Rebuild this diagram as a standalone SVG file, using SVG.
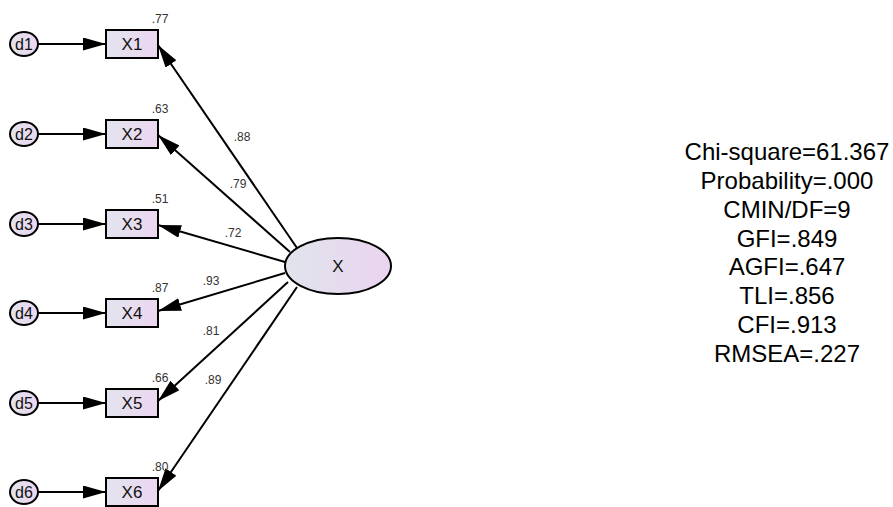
<svg xmlns="http://www.w3.org/2000/svg" width="893" height="507" viewBox="0 0 893 507">
  <defs>
    <linearGradient id="fillObs" x1="0" y1="0" x2="1" y2="0">
      <stop offset="0" stop-color="#e2e4ee"/>
      <stop offset="1" stop-color="#ecd6f0"/>
    </linearGradient>
    <linearGradient id="fillLat" x1="0" y1="0" x2="1" y2="0">
      <stop offset="0" stop-color="#e0e4ec"/>
      <stop offset="1" stop-color="#ebd4f0"/>
    </linearGradient>
    <marker id="arrow" markerUnits="userSpaceOnUse" markerWidth="23" markerHeight="13" refX="23" refY="6.5" orient="auto">
      <path d="M0,0 L23,6.5 L0,13 Z" fill="#000"/>
    </marker>
  </defs>
  <style>
    .obs { fill: url(#fillObs); stroke: #000; stroke-width: 2; }
    .err { fill: url(#fillObs); stroke: #000; stroke-width: 2; }
    .lat { fill: url(#fillLat); stroke: #000; stroke-width: 2; }
    .name { font-family: "Liberation Sans", Arial, sans-serif; font-size: 17px; fill: #111; text-anchor: middle; }
    .dname { font-family: "Liberation Sans", Arial, sans-serif; font-size: 16px; fill: #111; text-anchor: middle; }
    .coef { font-family: "Liberation Sans", Arial, sans-serif; font-size: 12px; fill: #333; text-anchor: middle; }
    .fit { font-family: "Liberation Sans", Arial, sans-serif; font-size: 24px; fill: #000; text-anchor: middle; }
    .conn line { stroke: #000; stroke-width: 2; marker-end: url(#arrow); }
  </style>

  <rect width="893" height="507" fill="#fff"/>

  <!-- paths: errors to indicators, factor to indicators -->
  <g id="connectors" class="conn">
    <line x1="38" y1="44" x2="106" y2="44"/>
    <line x1="38" y1="134" x2="106" y2="134"/>
    <line x1="38" y1="224" x2="106" y2="224"/>
    <line x1="38" y1="313" x2="106" y2="313"/>
    <line x1="38" y1="403" x2="106" y2="403"/>
    <line x1="38" y1="492" x2="106" y2="492"/>
    <line x1="297" y1="248" x2="158" y2="45"/>
    <line x1="290" y1="252" x2="158" y2="135"/>
    <line x1="285" y1="262" x2="158" y2="225"/>
    <line x1="285" y1="273" x2="158" y2="311"/>
    <line x1="288" y1="282" x2="158" y2="401"/>
    <line x1="297" y1="287" x2="158" y2="491"/>
  </g>

  <!-- loading estimates -->
  <g id="loadings">
    <text class="coef" x="242" y="141">.88</text>
    <text class="coef" x="238" y="188">.79</text>
    <text class="coef" x="233" y="237">.72</text>
    <text class="coef" x="211" y="285">.93</text>
    <text class="coef" x="211" y="335">.81</text>
    <text class="coef" x="213" y="384">.89</text>
  </g>

  <!-- error terms -->
  <g id="d1"><ellipse class="err" cx="24" cy="44" rx="14" ry="12"/><text class="dname" x="24" y="50">d1</text></g>
  <g id="d2"><ellipse class="err" cx="24" cy="134" rx="14" ry="12"/><text class="dname" x="24" y="140">d2</text></g>
  <g id="d3"><ellipse class="err" cx="24" cy="224" rx="14" ry="12"/><text class="dname" x="24" y="230">d3</text></g>
  <g id="d4"><ellipse class="err" cx="24" cy="313" rx="14" ry="12"/><text class="dname" x="24" y="319">d4</text></g>
  <g id="d5"><ellipse class="err" cx="24" cy="403" rx="14" ry="12"/><text class="dname" x="24" y="409">d5</text></g>
  <g id="d6"><ellipse class="err" cx="24" cy="492" rx="14" ry="12"/><text class="dname" x="24" y="498">d6</text></g>

  <!-- observed indicators with squared multiple correlations -->
  <g id="X1"><rect class="obs" x="106" y="30" width="52" height="28"/><text class="name" x="132" y="50">X1</text><text class="coef" x="160" y="23">.77</text></g>
  <g id="X2"><rect class="obs" x="106" y="120" width="52" height="28"/><text class="name" x="132" y="140">X2</text><text class="coef" x="160" y="113">.63</text></g>
  <g id="X3"><rect class="obs" x="106" y="210" width="52" height="28"/><text class="name" x="132" y="230">X3</text><text class="coef" x="160" y="203">.51</text></g>
  <g id="X4"><rect class="obs" x="106" y="299" width="52" height="28"/><text class="name" x="132" y="319">X4</text><text class="coef" x="160" y="292">.87</text></g>
  <g id="X5"><rect class="obs" x="106" y="389" width="52" height="28"/><text class="name" x="132" y="409">X5</text><text class="coef" x="160" y="382">.66</text></g>
  <g id="X6"><rect class="obs" x="106" y="478" width="52" height="28"/><text class="name" x="132" y="498">X6</text><text class="coef" x="160" y="471">.80</text></g>

  <!-- latent factor -->
  <g id="X"><ellipse class="lat" cx="338" cy="266" rx="53" ry="28"/><text class="name" x="338" y="272">X</text></g>

  <!-- model fit summary -->
  <g id="fit">
    <text class="fit" x="787" y="160">Chi-square=61.367</text>
    <text class="fit" x="787" y="189">Probability=.000</text>
    <text class="fit" x="787" y="218">CMIN/DF=9</text>
    <text class="fit" x="787" y="247">GFI=.849</text>
    <text class="fit" x="787" y="275">AGFI=.647</text>
    <text class="fit" x="787" y="304">TLI=.856</text>
    <text class="fit" x="787" y="333">CFI=.913</text>
    <text class="fit" x="787" y="362">RMSEA=.227</text>
  </g>
</svg>
